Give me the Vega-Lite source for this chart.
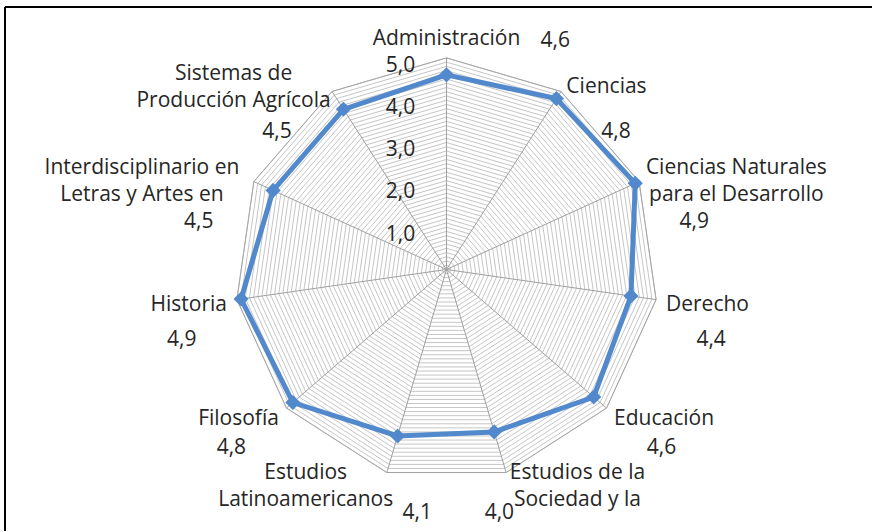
{
  "$schema": "https://vega.github.io/schema/vega-lite/v6.json",
  "width": 873,
  "height": 532,
  "autosize": {"type": "fit", "contains": "padding"},
  "padding": 0,
  "background": "white",
  "config": {
    "view": {"stroke": null},
    "text": {"font": "Open Sans", "fontSize": 21, "color": "#262626"}
  },
  "datasets": {
    "scores": [
      {"i": 0, "lab": "Administración", "v": 4.6},
      {"i": 1, "lab": "Ciencias", "v": 4.8},
      {"i": 2, "lab": "Ciencias Naturales\npara el Desarrollo", "v": 4.9},
      {"i": 3, "lab": "Derecho", "v": 4.4},
      {"i": 4, "lab": "Educación", "v": 4.6},
      {"i": 5, "lab": "Estudios de la\nSociedad y la", "v": 4.0},
      {"i": 6, "lab": "Estudios\nLatinoamericanos", "v": 4.1},
      {"i": 7, "lab": "Filosofía", "v": 4.8},
      {"i": 8, "lab": "Historia", "v": 4.9},
      {"i": 9, "lab": "Interdisciplinario en\nLetras y Artes en", "v": 4.5},
      {"i": 10, "lab": "Sistemas de\nProducción Agrícola", "v": 4.5}
    ],
    "grid": [
      {"k": [0, 1, 2, 3, 4, 5, 6, 7, 8, 9, 10],
       "r": [0.1, 0.2, 0.3, 0.4, 0.5, 0.6, 0.7, 0.8, 0.9, 1.0, 1.1, 1.2, 1.3, 1.4, 1.5, 1.6, 1.7, 1.8, 1.9, 2.0, 2.1, 2.2, 2.3, 2.4, 2.5, 2.6, 2.7, 2.8, 2.9, 3.0, 3.1, 3.2, 3.3, 3.4, 3.5, 3.6, 3.7, 3.8, 3.9, 4.0, 4.1, 4.2, 4.3, 4.4, 4.5, 4.6, 4.7, 4.8, 4.9, 5.0]}
    ],
    "ticks": [{"r": 1}, {"r": 2}, {"r": 3}, {"r": 4}, {"r": 5}],
    "frame": [{"x": -10.424, "x2": 10.047, "y": 6.203, "y2": -6.179}]
  },
  "layer": [
    {
      "data": {"name": "grid"},
      "transform": [
        {"flatten": ["k"]},
        {"flatten": ["r"]},
        {"calculate": "datum.k*2*PI/11", "as": "a"},
        {"calculate": "datum.r*sin(datum.a)", "as": "gx"},
        {"calculate": "datum.r*cos(datum.a)", "as": "gy"}
      ],
      "mark": {"type": "line", "interpolate": "linear-closed", "stroke": "#c6c6c6", "strokeWidth": 1},
      "encoding": {
        "x": {"field": "gx", "type": "quantitative", "scale": {"domain": [-10.542, 10.047], "nice": false, "zero": false}, "axis": null},
        "y": {"field": "gy", "type": "quantitative", "scale": {"domain": [-6.179, 6.368], "nice": false, "zero": false}, "axis": null},
        "detail": {"field": "r", "type": "nominal"},
        "order": {"field": "k", "type": "quantitative"}
      }
    },
    {
      "data": {"name": "scores"},
      "transform": [
        {"calculate": "datum.i*2*PI/11", "as": "a"},
        {"calculate": "5*sin(datum.a)", "as": "vx"},
        {"calculate": "5*cos(datum.a)", "as": "vy"}
      ],
      "mark": {"type": "line", "interpolate": "linear-closed", "stroke": "#a6a6a6", "strokeWidth": 1},
      "encoding": {
        "x": {"field": "vx", "type": "quantitative", "scale": {"domain": [-10.542, 10.047], "nice": false, "zero": false}, "axis": null},
        "y": {"field": "vy", "type": "quantitative", "scale": {"domain": [-6.179, 6.368], "nice": false, "zero": false}, "axis": null},
        "order": {"field": "i", "type": "quantitative"}
      }
    },
    {
      "data": {"name": "scores"},
      "transform": [
        {"calculate": "datum.i*2*PI/11", "as": "a"},
        {"calculate": "0", "as": "ox"},
        {"calculate": "5*sin(datum.a)", "as": "vx"},
        {"calculate": "5*cos(datum.a)", "as": "vy"}
      ],
      "mark": {"type": "rule", "stroke": "#a0a0a0", "strokeWidth": 1},
      "encoding": {
        "x": {"field": "ox", "type": "quantitative", "scale": {"domain": [-10.542, 10.047], "nice": false, "zero": false}, "axis": null},
        "y": {"field": "ox", "type": "quantitative", "scale": {"domain": [-6.179, 6.368], "nice": false, "zero": false}, "axis": null},
        "x2": {"field": "vx"},
        "y2": {"field": "vy"}
      }
    },
    {
      "data": {"name": "scores"},
      "transform": [
        {"calculate": "datum.i*2*PI/11", "as": "a"},
        {"calculate": "datum.v*sin(datum.a)", "as": "px"},
        {"calculate": "datum.v*cos(datum.a)", "as": "py"}
      ],
      "mark": {"type": "line", "interpolate": "linear-closed", "stroke": "#5189cc", "strokeWidth": 5},
      "encoding": {
        "x": {"field": "px", "type": "quantitative", "scale": {"domain": [-10.542, 10.047], "nice": false, "zero": false}, "axis": null},
        "y": {"field": "py", "type": "quantitative", "scale": {"domain": [-6.179, 6.368], "nice": false, "zero": false}, "axis": null},
        "order": {"field": "i", "type": "quantitative"}
      }
    },
    {
      "data": {"name": "scores"},
      "transform": [
        {"calculate": "datum.i*2*PI/11", "as": "a"},
        {"calculate": "datum.v*sin(datum.a)", "as": "px"},
        {"calculate": "datum.v*cos(datum.a)", "as": "py"}
      ],
      "mark": {"type": "point", "shape": "diamond", "filled": true, "size": 230, "color": "#5189cc", "opacity": 1},
      "encoding": {
        "x": {"field": "px", "type": "quantitative", "scale": {"domain": [-10.542, 10.047], "nice": false, "zero": false}, "axis": null},
        "y": {"field": "py", "type": "quantitative", "scale": {"domain": [-6.179, 6.368], "nice": false, "zero": false}, "axis": null}
      }
    },
    {
      "data": {"name": "ticks"},
      "transform": [
        {"calculate": "-0.74", "as": "tx"},
        {"calculate": "datum.r - 0.18", "as": "ty"},
        {"calculate": "replace(format(datum.r, '.1f'), '.', ',')", "as": "t"}
      ],
      "mark": {"type": "text", "align": "right", "baseline": "middle"},
      "encoding": {
        "x": {"field": "tx", "type": "quantitative", "scale": {"domain": [-10.542, 10.047], "nice": false, "zero": false}, "axis": null},
        "y": {"field": "ty", "type": "quantitative", "scale": {"domain": [-6.179, 6.368], "nice": false, "zero": false}, "axis": null},
        "text": {"field": "t", "type": "nominal"}
      }
    },
    {
      "data": {"name": "scores"},
      "transform": [
        {"calculate": "datum.i*2*PI/11", "as": "a"},
        {"calculate": "sin(datum.a)", "as": "s"},
        {"calculate": "cos(datum.a)", "as": "c"},
        {"calculate": "length(split(datum.lab, '\\n'))", "as": "n"},
        {"filter": "datum.s > 0.1 && datum.n == 1"},
        {"calculate": "5.236*datum.s", "as": "lx"},
        {"calculate": "5.236*datum.c - 0.1", "as": "ly"}
      ],
      "mark": {"type": "text", "align": "left", "baseline": "middle"},
      "encoding": {
        "x": {"field": "lx", "type": "quantitative", "scale": {"domain": [-10.542, 10.047], "nice": false, "zero": false}, "axis": null},
        "y": {"field": "ly", "type": "quantitative", "scale": {"domain": [-6.179, 6.368], "nice": false, "zero": false}, "axis": null},
        "text": {"field": "lab", "type": "nominal"}
      }
    },
    {
      "data": {"name": "scores"},
      "transform": [
        {"calculate": "datum.i*2*PI/11", "as": "a"},
        {"calculate": "sin(datum.a)", "as": "s"},
        {"calculate": "cos(datum.a)", "as": "c"},
        {"calculate": "length(split(datum.lab, '\\n'))", "as": "n"},
        {"filter": "datum.s < -0.1 && datum.n == 1"},
        {"calculate": "5.236*datum.s", "as": "lx"},
        {"calculate": "5.236*datum.c - 0.1", "as": "ly"}
      ],
      "mark": {"type": "text", "align": "right", "baseline": "middle"},
      "encoding": {
        "x": {"field": "lx", "type": "quantitative", "scale": {"domain": [-10.542, 10.047], "nice": false, "zero": false}, "axis": null},
        "y": {"field": "ly", "type": "quantitative", "scale": {"domain": [-6.179, 6.368], "nice": false, "zero": false}, "axis": null},
        "text": {"field": "lab", "type": "nominal"}
      }
    },
    {
      "data": {"name": "scores"},
      "transform": [
        {"calculate": "datum.i*2*PI/11", "as": "a"},
        {"calculate": "sin(datum.a)", "as": "s"},
        {"calculate": "cos(datum.a)", "as": "c"},
        {"calculate": "split(datum.lab, '\\n')", "as": "parts"},
        {"filter": "length(datum.parts) > 1"},
        {"calculate": "max(length(datum.parts[0]), length(datum.parts[1]))", "as": "w"},
        {"calculate": "5.236*datum.s + (datum.s > 0 ? 1 : -1)*datum.w*0.1156", "as": "lx"},
        {"calculate": "5.236*datum.c - 0.1 + 0.318", "as": "ly"}
      ],
      "mark": {"type": "text", "align": "center", "baseline": "middle", "lineBreak": "\n", "lineHeight": 27},
      "encoding": {
        "x": {"field": "lx", "type": "quantitative", "scale": {"domain": [-10.542, 10.047], "nice": false, "zero": false}, "axis": null},
        "y": {"field": "ly", "type": "quantitative", "scale": {"domain": [-6.179, 6.368], "nice": false, "zero": false}, "axis": null},
        "text": {"field": "lab", "type": "nominal"}
      }
    },
    {
      "data": {"name": "scores"},
      "transform": [
        {"calculate": "datum.i*2*PI/11", "as": "a"},
        {"calculate": "sin(datum.a)", "as": "s"},
        {"calculate": "cos(datum.a)", "as": "c"},
        {"filter": "abs(datum.s) <= 0.1"},
        {"calculate": "5.236*datum.s", "as": "lx"},
        {"calculate": "5.236*datum.c + 0.07", "as": "ly"}
      ],
      "mark": {"type": "text", "align": "center", "baseline": "alphabetic"},
      "encoding": {
        "x": {"field": "lx", "type": "quantitative", "scale": {"domain": [-10.542, 10.047], "nice": false, "zero": false}, "axis": null},
        "y": {"field": "ly", "type": "quantitative", "scale": {"domain": [-6.179, 6.368], "nice": false, "zero": false}, "axis": null},
        "text": {"field": "lab", "type": "nominal"}
      }
    },
    {
      "data": {"name": "scores"},
      "transform": [
        {"calculate": "datum.i*2*PI/11", "as": "a"},
        {"calculate": "sin(datum.a)", "as": "s"},
        {"calculate": "cos(datum.a)", "as": "c"},
        {"calculate": "datum.c > 0.9 ? 5*datum.s + 2.57 : 5*datum.s + (abs(datum.s) < 0.3 ? (0.28 - 1.56*datum.s) : (datum.s > 0 ? 1.3 : -1.3))", "as": "tx"},
        {"calculate": "datum.c > 0.9 ? 5*datum.c + 0.4 : 5*datum.c - 0.95", "as": "ty"},
        {"calculate": "replace(format(datum.v, '.1f'), '.', ',')", "as": "t"}
      ],
      "mark": {"type": "text", "align": "center", "baseline": "middle"},
      "encoding": {
        "x": {"field": "tx", "type": "quantitative", "scale": {"domain": [-10.542, 10.047], "nice": false, "zero": false}, "axis": null},
        "y": {"field": "ty", "type": "quantitative", "scale": {"domain": [-6.179, 6.368], "nice": false, "zero": false}, "axis": null},
        "text": {"field": "t", "type": "nominal"}
      }
    },
    {
      "data": {"name": "frame"},
      "mark": {"type": "rule", "stroke": "#000000", "strokeWidth": 2},
      "encoding": {
        "x": {"field": "x", "type": "quantitative", "scale": {"domain": [-10.542, 10.047], "nice": false, "zero": false}, "axis": null},
        "y": {"field": "y", "type": "quantitative", "scale": {"domain": [-6.179, 6.368], "nice": false, "zero": false}, "axis": null},
        "y2": {"field": "y2"}
      }
    },
    {
      "data": {"name": "frame"},
      "mark": {"type": "rule", "stroke": "#000000", "strokeWidth": 2},
      "encoding": {
        "x": {"field": "x", "type": "quantitative", "scale": {"domain": [-10.542, 10.047], "nice": false, "zero": false}, "axis": null},
        "y": {"field": "y", "type": "quantitative", "scale": {"domain": [-6.179, 6.368], "nice": false, "zero": false}, "axis": null},
        "x2": {"field": "x2"}
      }
    }
  ]
}
